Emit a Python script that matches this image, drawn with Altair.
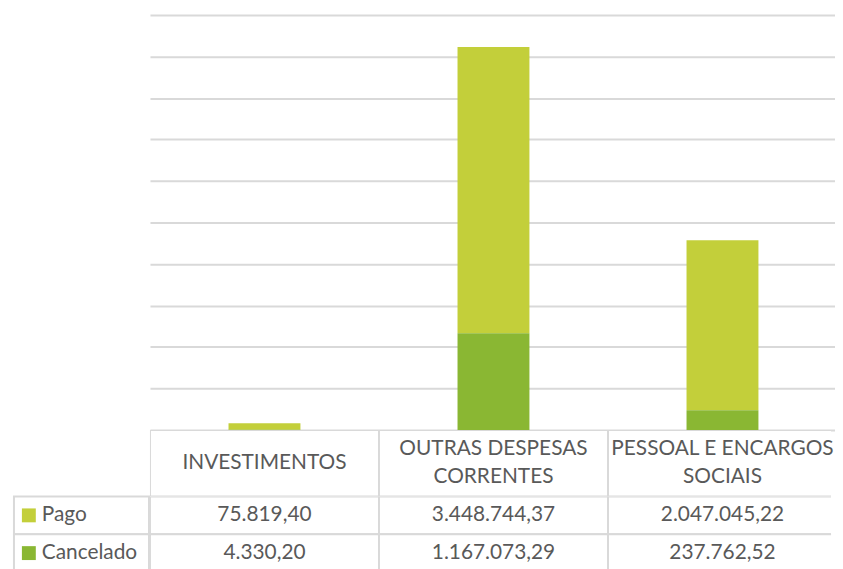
import altair as alt
import pandas as pd

categories = ["INVESTIMENTOS", "OUTRAS DESPESAS CORRENTES", "PESSOAL E ENCARGOS SOCIAIS"]
header_lines = [["INVESTIMENTOS"], ["OUTRAS DESPESAS", "CORRENTES"], ["PESSOAL E ENCARGOS", "SOCIAIS"]]
series = ["Pago", "Cancelado"]
pago = [75819.40, 3448744.37, 2047045.22]
cancelado = [4330.20, 1167073.29, 237762.52]
grid_values = [0, 500000, 1000000, 1500000, 2000000, 2500000, 3000000, 3500000,
               4000000, 4500000, 5000000]
colors = ["#C3CF3A", "#8AB733"]

FONT = "Lato"
TXT = "#595959"
LINE = "#D9D9D9"


def br(v):
    s = f"{v:,.2f}"
    return s.replace(",", "X").replace(".", ",").replace("X", ".")


rows = []
for i, c in enumerate(categories):
    rows.append({"cat": c, "series": "Pago", "value": pago[i], "ord": 1, "label": br(pago[i])})
    rows.append({"cat": c, "series": "Cancelado", "value": cancelado[i], "ord": 0, "label": br(cancelado[i])})
df = pd.DataFrame(rows)

hrows = []
for c, lines in zip(categories, header_lines):
    n = len(lines)
    for i, t in enumerate(lines):
        hrows.append({"cat": c, "text": t, "pos": (n - 1) / 2 - i})
hdf = pd.DataFrame(hrows)
hcells = pd.DataFrame({"cat": categories})
ldf = pd.DataFrame({"series": series})

W = 686          # visible plot width (page is cut at the right edge)
FULL = 692       # full table width, the right border falls beyond the page edge
HH = 67
LINE_H = 28
col_scale = alt.Scale(domain=categories, paddingInner=0, paddingOuter=0, range=[0, FULL])
row_scale = alt.Scale(domain=series, paddingInner=0, paddingOuter=0)
color_scale = alt.Scale(domain=series, range=colors)
half = HH / LINE_H / 2

bars = alt.Chart(df).mark_bar().encode(
    x=alt.X("cat:N", sort=categories,
            scale=alt.Scale(domain=categories, paddingInner=0.686, paddingOuter=0.343,
                            range=[0, FULL]),
            axis=None),
    y=alt.Y("value:Q", stack="zero",
            scale=alt.Scale(domain=[0, 5000000], nice=False),
            axis=alt.Axis(values=grid_values, labels=False, ticks=False, domain=False,
                          grid=True, gridColor=LINE, gridWidth=2, title=None)),
    color=alt.Color("series:N", scale=color_scale, legend=None),
    order=alt.Order("ord:Q"),
).properties(width=W, height=418)

header = alt.layer(
    alt.Chart(hcells).mark_rect(fill="white", stroke=LINE, strokeWidth=2, clip=True).encode(
        x=alt.X("cat:N", scale=col_scale, axis=None)),
    alt.Chart(hdf).mark_text(font=FONT, fontSize=21, color=TXT, baseline="middle").encode(
        x=alt.X("cat:N", scale=col_scale, axis=None),
        y=alt.Y("pos:Q", scale=alt.Scale(domain=[-half, half], nice=False, zero=False), axis=None),
        text="text:N"),
).properties(width=W, height=HH)

values = alt.layer(
    alt.Chart(df).mark_rect(fill="white", stroke=LINE, strokeWidth=2, clip=True).encode(
        x=alt.X("cat:N", scale=col_scale, axis=None),
        y=alt.Y("series:N", scale=row_scale, axis=None)),
    alt.Chart(df).mark_text(font=FONT, fontSize=21, color=TXT, baseline="middle").encode(
        x=alt.X("cat:N", scale=col_scale, axis=None),
        y=alt.Y("series:N", scale=row_scale, axis=None),
        text="label:N"),
).properties(width=W, height=76)

legend_tbl = alt.layer(
    alt.Chart(ldf).mark_rect(fill="white", stroke=LINE, strokeWidth=2).encode(
        y=alt.Y("series:N", scale=row_scale, axis=None)),
    alt.Chart(ldf).mark_square(size=196, opacity=1).encode(
        x=alt.value(15),
        y=alt.Y("series:N", scale=row_scale, axis=None),
        color=alt.Color("series:N", scale=color_scale, legend=None)),
    alt.Chart(ldf).mark_text(font=FONT, fontSize=21, color=TXT, align="left",
                             baseline="middle").encode(
        x=alt.value(28),
        y=alt.Y("series:N", scale=row_scale, axis=None),
        text="series:N"),
).properties(width=136, height=76)

blank = alt.Chart(ldf).mark_point(opacity=0).properties(width=135, height=485)

left = alt.vconcat(blank, legend_tbl, spacing=0, bounds="flush")
right = alt.vconcat(bars, header, values, spacing=0, bounds="flush")

chart = alt.hconcat(left, right, spacing=0).properties(
    padding={"left": 5, "top": 5, "right": 0, "bottom": 0},
    background="white",
).configure_view(strokeWidth=0)

chart.save("out.html", embed_options={"renderer": "svg", "actions": False})
